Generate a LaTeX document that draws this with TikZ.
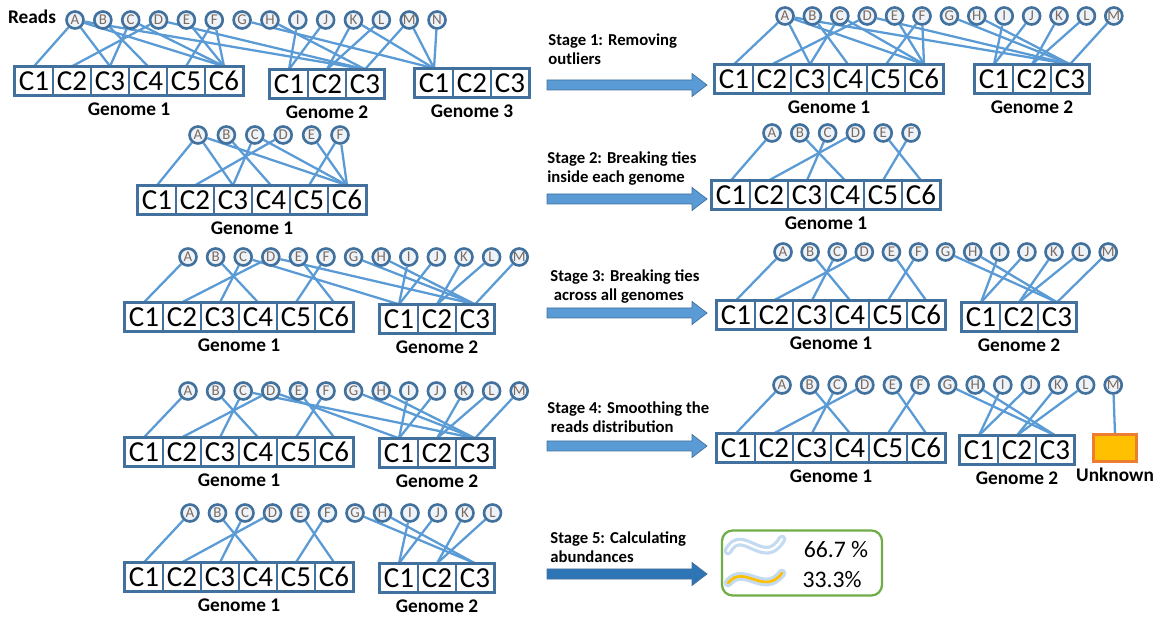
\documentclass[tikz,border=0pt]{standalone}
\usepackage{fontspec}
\setmainfont{Carlito}
\usetikzlibrary{positioning,fit,backgrounds}
\definecolor{Link}{HTML}{5B9BD5}
\definecolor{Steel}{HTML}{41719C}
\definecolor{ReadFill}{HTML}{EEF3F9}
\definecolor{Letter}{HTML}{7B6A5E}
\definecolor{ArrowLight}{HTML}{5B9BD5}
\definecolor{ArrowDark}{HTML}{2E75B6}
\definecolor{Amber}{HTML}{FFC000}
\definecolor{Orange}{HTML}{ED7D31}
\definecolor{Leaf}{HTML}{70AD47}
\definecolor{Glow}{HTML}{A9CBEA}

\tikzset{
  read/.style={circle,draw=Steel,line width=1.5pt,fill=ReadFill,minimum size=0.34cm,inner sep=0pt,
    font=\fontsize{8.5}{8.5}\selectfont\color{Letter}},
  cell/.style={draw=Steel,line width=0.8pt,fill=white,minimum width=0.76cm,minimum height=0.56cm,
    inner sep=0pt,font=\fontsize{16.5}{17}\selectfont},
  gbox/.style={draw=Steel,line width=1.8pt,inner sep=0pt},
  gname/.style={font=\fontsize{11}{12}\selectfont\bfseries,inner sep=1pt},
  link/.style={Link,line width=1.3pt},
  stagetext/.style={font=\fontsize{9.5}{11.2}\selectfont\bfseries,align=left,anchor=north west,inner sep=0pt},
  pct/.style={font=\fontsize{13.5}{14}\selectfont,inner sep=0pt},
  halo/.style={Glow,line width=5pt,line cap=round,opacity=0.7},
}

\begin{document}
\begin{tikzpicture}[x=0.02cm,y=-0.02cm]
\useasboundingbox (0,0) rectangle (1169,617);

\node[gname] (readslabel) at (32,17) {Reads};

% reads
\foreach \p/\n/\x/\y/\s in {L1/14/75/20/27.85, R1/13/785/16/27.4, L2/6/198/135/28.4, R2/6/772/133/27.8,
    L3/13/188/257/27.6, R3/13/783/252/27.1, L4/13/188/391/27.6, R4/13/782/385/27.6, L5/12/190/513/27.5}
  \foreach \l [count=\i from 0] in {A,B,C,D,E,F,G,H,I,J,K,L,M,N}
    {\ifnum\i<\n \node[read] (\p\l) at ({\x+\s*\i},\y) {\l};\fi}

% genomes
\foreach \p/\g/\n/\x/\y/\lab in {L1/a/6/15/81/1, L1/b/3/270/84/2, L1/c/3/415/83/3,
    R1/a/6/715/79/1, R1/b/3/975/79/2, L2/a/6/138/200/1, R2/a/6/712/195/1,
    L3/a/6/125/317/1, L3/b/3/380/319/2, R3/a/6/717/315/1, R3/b/3/962/317/2,
    L4/a/6/125/452/1, L4/b/3/380/453/2, R4/a/6/717/448/1, R4/b/3/960/450/2,
    L5/a/6/125/577/1, L5/b/3/380/578/2}{
  \foreach \i in {1,...,\n}
    \node[cell] (\p\g\i) at ({\x+38*(\i-0.5)},\y) {C\i};
  \node[gbox,fit=(\p\g1)(\p\g\n)] (\p\g) {};
  \node[gname,below=2pt of \p\g] (\p\g-name) {Genome \lab};
}

% unknown bin
\node[draw=Orange,fill=Amber,line width=1.3pt,minimum width=0.86cm,minimum height=0.54cm] (R4u) at (1115,448) {};
\node[gname,below=2pt of R4u] (R4u-name) {Unknown};

% read to contig links
\begin{scope}[on background layer]
\foreach \r/\c in {A/a1,A/a3,A/a6,A/b3,B/a4,C/a3,C/a6,D/a2,D/b3,E/a6,F/a5,F/a6,
    G/c1,H/b3,I/b1,J/b1,K/b2,K/c1,L/b2,M/b3,M/c1,N/c1}
  \draw[link] (L1\r) -- (L1\c.north);
\foreach \r/\c in {A/a1,A/a3,A/a6,A/b3,B/a4,C/a3,C/a6,D/a2,D/b3,E/a6,F/a5,F/a6,
    G/b3,H/b3,I/b1,J/b1,K/b2,L/b2,M/b3}
  \draw[link] (R1\r) -- (R1\c.north);
\foreach \r/\c in {A/a1,A/a3,A/a6,B/a4,C/a3,C/a6,D/a2,E/a6,F/a5,F/a6}
  \draw[link] (L2\r) -- (L2\c.north);
\foreach \r/\c in {A/a1,B/a4,C/a3,D/a2,E/a6,F/a5}
  \draw[link] (R2\r) -- (R2\c.north);
\foreach \r/\c in {A/a1,B/a4,C/a3,D/a2,E/a6,F/a5,C/b1,D/b3,G/b3,H/b3,I/b1,J/b1,K/b2,L/b2,M/b3}
  \draw[link] (L3\r) -- (L3\c.north);
\foreach \r/\c in {A/a1,B/a4,C/a3,D/a2,E/a6,F/a5,G/b3,H/b3,I/b1,J/b1,K/b2,L/b2,M/b3}
  \draw[link] (R3\r) -- (R3\c.north);
\foreach \r/\c in {A/a1,B/a4,C/a3,D/a2,E/a6,F/a5,C/b3,D/b1,G/b3,H/b3,I/b1,J/b1,K/b2,L/b2,M/b3}
  \draw[link] (L4\r) -- (L4\c.north);
\foreach \r/\c in {A/a1,B/a4,C/a3,D/a2,E/a6,F/a5,G/b3,H/b3,I/b1,J/b1,K/b2,L/b2,M/u}
  \draw[link] (R4\r) -- (R4\c.north);
\foreach \r/\c in {A/a1,B/a4,C/a3,D/a2,E/a6,F/a5,G/b3,H/b3,I/b1,J/b1,K/b2,L/b2}
  \draw[link] (L5\r) -- (L5\c.north);
\end{scope}

% stage arrows
\foreach \y/\col in {85/ArrowLight,199/ArrowLight,313/ArrowLight,446/ArrowLight,574/ArrowDark}
  \filldraw[fill=\col,draw=Steel,line width=0.4pt]
    (547,\y-5) -- (692,\y-5) -- (692,\y-11.5) -- (707,\y) -- (692,\y+11.5) -- (692,\y+5) -- (547,\y+5) -- cycle;

\node[stagetext] (stage1) at (548,33) {Stage 1: Removing\\outliers};
\node[stagetext] (stage2) at (547,151) {Stage 2: Breaking ties\\inside each genome};
\node[stagetext] (stage3) at (550,269) {Stage 3: Breaking ties\\\hspace{2pt}across all genomes};
\node[stagetext] (stage4) at (547,401) {Stage 4: Smoothing the\\\hspace{2pt}reads distribution};
\node[stagetext] (stage5) at (550,531) {Stage 5: Calculating\\abundances};

% abundance result
\node[draw=Leaf,line width=1.3pt,rounded corners=6pt,minimum width=3.2cm,minimum height=1.3cm] (result) at (802,563) {};
\draw[halo] (728,551) .. controls (742,524) and (764,570) .. (782,539);
\draw[white,line width=1.3pt,line cap=round] (728,551) .. controls (742,524) and (764,570) .. (782,539);
\draw[halo] (728,583) .. controls (744,563) and (764,597) .. (782,573);
\draw[Amber,line width=1.5pt,line cap=round] (728,583) .. controls (744,563) and (764,597) .. (782,573);
\node[pct] (share1) at (836,550) {66.7 \%};
\node[pct] (share2) at (832,580) {33.3\%};
\end{tikzpicture}
\end{document}
